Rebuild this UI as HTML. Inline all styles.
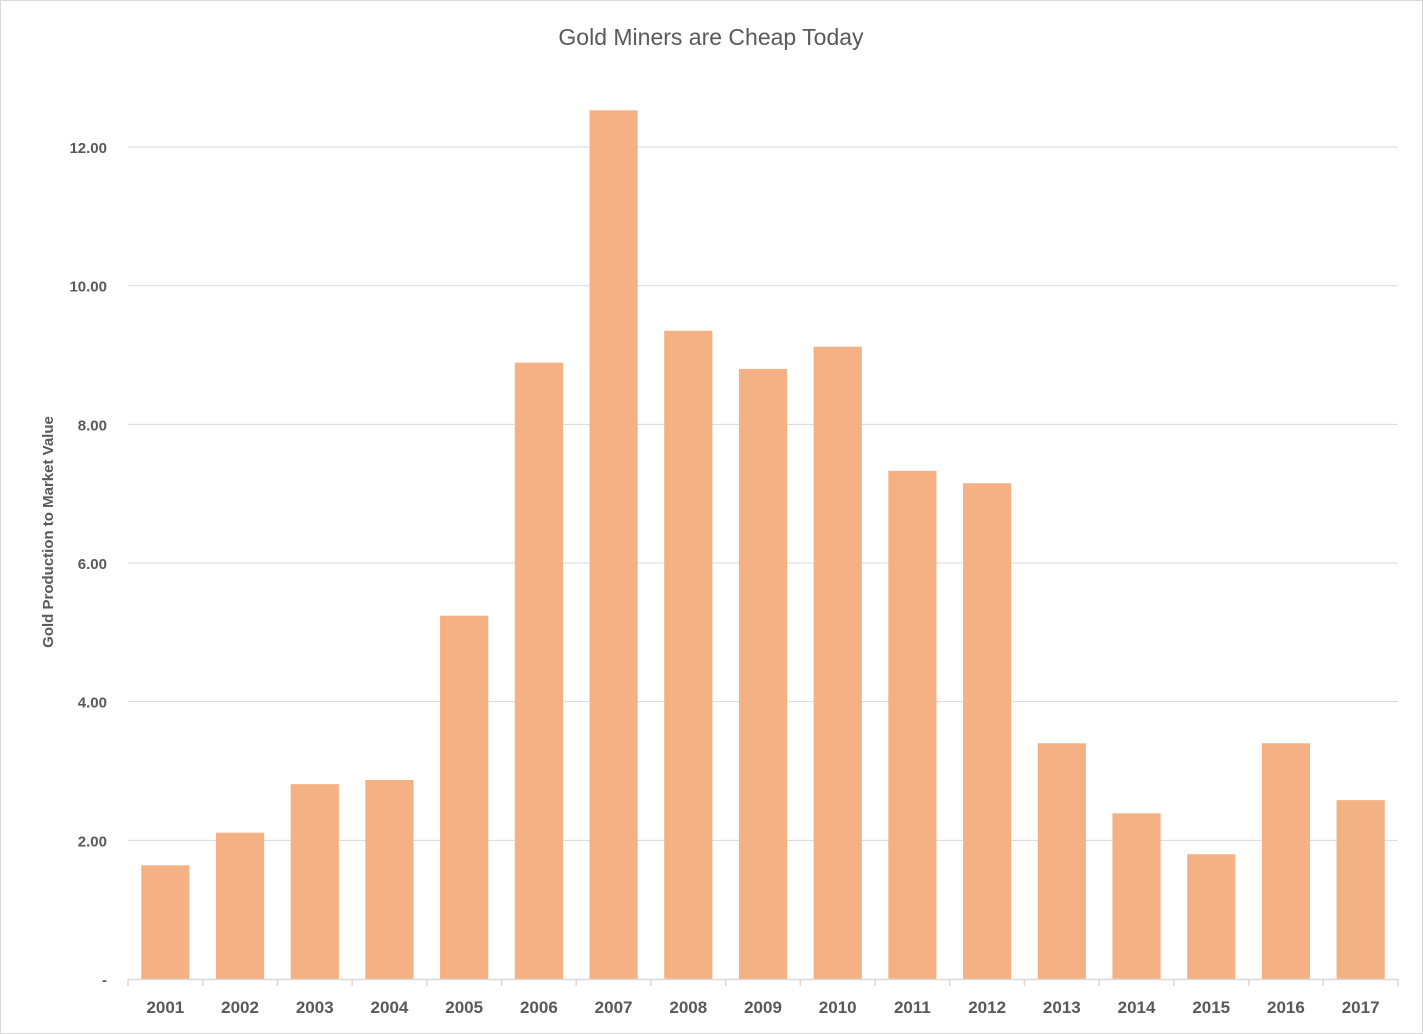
<!DOCTYPE html>
<html><head><meta charset="utf-8"><style>
html,body{margin:0;padding:0;background:#fff;}
svg{display:block;}
</style></head><body>
<svg id="chart" width="1423" height="1034" xmlns="http://www.w3.org/2000/svg" font-family="'Liberation Sans', sans-serif">
<rect x="0.5" y="0.5" width="1422" height="1033" fill="#fff" stroke="#d9d9d9"/>
<text x="711" y="45" text-anchor="middle" font-size="23" fill="#595959">Gold Miners are Cheap Today</text>
<text transform="translate(53,532) rotate(-90)" text-anchor="middle" font-size="15" font-weight="bold" fill="#595959">Gold Production to Market Value</text>
<g id="grid"></g><g id="bars"></g><g id="axis"></g>
</svg>
<script>
const categories=["2001","2002","2003","2004","2005","2006","2007","2008","2009","2010","2011","2012","2013","2014","2015","2016","2017"];
const values=[1.64,2.11,2.81,2.87,5.24,8.89,12.53,9.35,8.80,9.12,7.33,7.15,3.40,2.39,1.80,3.40,2.58];
const yTicks=[0,2,4,6,8,10,12];
const yTickLabels=["-","2.00","4.00","6.00","8.00","10.00","12.00"];
const NS="http://www.w3.org/2000/svg";
const x0=128,x1=1398,yBase=979,pxPerUnit=69.33;
const bandW=(x1-x0)/categories.length;
function y(v){return yBase-v*pxPerUnit;}
function xBand(i){return x0+i*bandW;}
function mk(tag,attrs,parent){const e=document.createElementNS(NS,tag);for(const k in attrs)e.setAttribute(k,attrs[k]);parent.appendChild(e);return e;}
const grid=document.getElementById('grid'),bars=document.getElementById('bars'),axis=document.getElementById('axis');
yTicks.forEach((t,i)=>{
  if(t>0){const l=mk('line',{x1:x0,x2:x1,y1:y(t),y2:y(t),stroke:'#d9d9d9','stroke-width':1},grid);
  
  }
  const tx=mk('text',{x:107,y:y(t)+6,'text-anchor':'end','font-size':15,'font-weight':'bold',fill:'#595959'},axis);
  tx.textContent=yTickLabels[i];
  
  
});
values.forEach((v,i)=>{
  const bw=bandW*0.645;
  const r=mk('rect',{x:xBand(i)+(bandW-bw)/2,y:y(v),width:bw,height:yBase-y(v),fill:'#F4B183'},bars);
  
  
  const tx=mk('text',{x:xBand(i)+bandW/2,y:1013,'text-anchor':'middle','font-size':17,'font-weight':'bold',fill:'#595959'},axis);
  tx.textContent=categories[i];
  
  
});
const ax=mk('line',{x1:x0,x2:x1,y1:yBase+0.5,y2:yBase+0.5,stroke:'#d9d9d9','stroke-width':1.5},axis);


for(let i=0;i<=categories.length;i++){
  const t=mk('line',{x1:xBand(i),x2:xBand(i),y1:yBase,y2:yBase+7,stroke:'#d9d9d9','stroke-width':1.5},axis);
  
  
}
</script>
</body></html>
